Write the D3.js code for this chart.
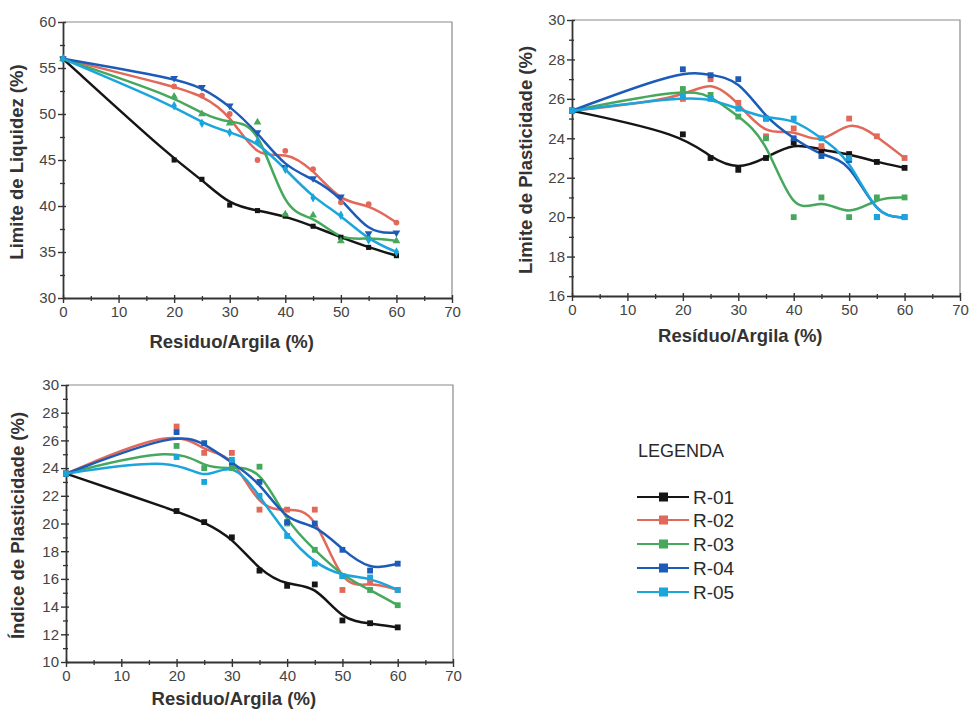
<!DOCTYPE html>
<html>
<head>
<meta charset="utf-8">
<script src="https://cdn.jsdelivr.net/npm/d3@7"></script>
<style>
  html, body { margin: 0; padding: 0; background: #fff; }
  svg { display: block; font-family: "Liberation Sans", Arial, sans-serif; }
</style>
</head>
<body>
<svg id="chart" width="969" height="712"></svg>
<script>
// Residue/clay ratio (%) tested for every mix
const residuo = [0, 20, 25, 30, 35, 40, 45, 50, 55, 60];

const seriesNames = ["R-01", "R-02", "R-03", "R-04", "R-05"];
const seriesColors = ["#151515", "#e2685a", "#45a85c", "#1c5cb8", "#1aa6dc"];

// Limite de Liquidez (%), one row per series
const limiteLiquidez = [
  [56.0, 45.0, 42.9, 40.1, 39.5, 38.9, 37.8, 36.6, 35.5, 34.6],
  [56.0, 53.0, 52.0, 50.0, 45.0, 46.0, 44.0, 40.4, 40.2, 38.2],
  [56.0, 51.9, 50.0, 49.0, 49.1, 39.1, 39.0, 36.2, 36.6, 36.2],
  [56.0, 53.9, 52.9, 50.9, 48.0, 44.2, 43.0, 41.0, 37.0, 37.1],
  [56.0, 50.9, 49.0, 48.0, 47.0, 44.0, 40.9, 39.0, 36.3, 35.0]
];

// Limite de Plasticidade (%)
const limitePlasticidade = [
  [25.4, 24.2, 23.0, 22.4, 23.0, 23.8, 23.4, 23.2, 22.8, 22.5],
  [25.4, 26.0, 27.0, 25.8, 24.1, 24.5, 23.6, 25.0, 24.1, 23.0],
  [25.4, 26.5, 26.2, 25.1, 24.0, 20.0, 21.0, 20.0, 21.0, 21.0],
  [25.4, 27.5, 27.2, 27.0, 25.0, 24.0, 23.1, 22.9, 20.0, 20.0],
  [25.4, 26.1, 26.0, 25.5, 25.0, 25.0, 24.0, 23.0, 20.0, 20.0]
];

// Índice de Plasticidade (%)
const indicePlasticidade = [
  [23.6, 20.9, 20.1, 19.0, 16.6, 15.5, 15.6, 13.0, 12.8, 12.5],
  [23.6, 27.0, 25.1, 25.1, 21.0, 21.0, 21.0, 15.2, 15.8, 15.2],
  [23.6, 25.6, 24.0, 24.0, 24.1, 20.0, 18.1, 16.2, 15.2, 14.1],
  [23.6, 26.6, 25.8, 24.4, 23.0, 20.1, 20.0, 18.1, 16.6, 17.1],
  [23.6, 24.8, 23.0, 24.6, 22.0, 19.1, 17.1, 16.2, 16.1, 15.2]
];

const xTicks = [0, 10, 20, 30, 40, 50, 60, 70];

const svg = d3.select("#chart");

const panels = [
  { data: limiteLiquidez, yDomain: [30, 60], yMajor: 5, yMinor: 2.5,
    box: { left: 63, right: 452, top: 22, bottom: 298 },
    yLabel: "Limite de Liquidez (%)", xLabel: "Residuo/Argila (%)",
    yLabelX: 18, xLabelY: 348,
    symbols: [d3.symbolSquare, d3.symbolCircle, d3.symbolTriangle, d3.symbolTriangle, d3.symbolDiamond],
    flip: [false, false, false, true, false], markerSize: 26 },
  { data: limitePlasticidade, yDomain: [16, 30], yMajor: 2, yMinor: 1,
    box: { left: 572, right: 960, top: 20, bottom: 296 },
    yLabel: "Limite de Plasticidade (%)", xLabel: "Resíduo/Argila (%)",
    yLabelX: 527, xLabelY: 342,
    symbols: null, markerSize: 34 },
  { data: indicePlasticidade, yDomain: [10, 30], yMajor: 2, yMinor: 1,
    box: { left: 66, right: 453, top: 385, bottom: 662 },
    yLabel: "Índice de Plasticidade (%)", xLabel: "Residuo/Argila (%)",
    yLabelX: 19, xLabelY: 705,
    symbols: null, markerSize: 34 }
];

function range(a, b, step) {
  const out = [];
  for (let v = a; v <= b + 1e-9; v += step) out.push(+v.toFixed(4));
  return out;
}

panels.forEach(p => {
  const b = p.box;
  const x = d3.scaleLinear().domain([0, 70]).range([b.left, b.right]);
  const y = d3.scaleLinear().domain(p.yDomain).range([b.bottom, b.top]);
  const g = svg.append("g");

  // frame: top and right edges
  g.append("path")
    .attr("d", `M${b.left},${b.top}H${b.right}V${b.bottom}`)
    .attr("fill", "none").attr("stroke", "#8a8a8a").attr("stroke-width", 1.2);

  // minor ticks
  const xMinor = range(0, 70, 5).filter(v => v % 10 !== 0);
  const yMinor = range(p.yDomain[0], p.yDomain[1], p.yMinor)
    .filter(v => Math.abs((v - p.yDomain[0]) / p.yMajor - Math.round((v - p.yDomain[0]) / p.yMajor)) > 1e-6);

  const xMinorAxis = g.append("g").attr("transform", `translate(0,${b.bottom})`)
    .call(d3.axisBottom(x).tickValues(xMinor).tickSize(3).tickFormat(""));
  xMinorAxis.selectAll(".tick line").attr("y1", -2).attr("stroke", "#333").attr("stroke-width", 1.3);
  xMinorAxis.select(".domain").remove();

  const yMinorAxis = g.append("g").attr("transform", `translate(${b.left},0)`)
    .call(d3.axisLeft(y).tickValues(yMinor).tickSize(3).tickFormat(""));
  yMinorAxis.selectAll(".tick line").attr("x1", 2).attr("stroke", "#333").attr("stroke-width", 1.3);
  yMinorAxis.select(".domain").remove();

  // major axes
  const xAxis = g.append("g").attr("transform", `translate(0,${b.bottom})`)
    .call(d3.axisBottom(x).tickValues(xTicks).tickSize(5).tickSizeOuter(0).tickPadding(3));
  xAxis.selectAll(".tick line").attr("y1", -3).attr("stroke", "#333").attr("stroke-width", 1.4);
  xAxis.select(".domain").attr("stroke", "#333").attr("stroke-width", 1.8);
  xAxis.selectAll(".tick text").attr("font-size", 15).attr("fill", "#444")
    .attr("font-family", "Liberation Sans, Arial, sans-serif");

  const yAxis = g.append("g").attr("transform", `translate(${b.left},0)`)
    .call(d3.axisLeft(y).tickValues(range(p.yDomain[0], p.yDomain[1], p.yMajor)).tickSize(5).tickSizeOuter(0).tickPadding(2));
  yAxis.selectAll(".tick line").attr("x1", 3).attr("stroke", "#333").attr("stroke-width", 1.4);
  yAxis.select(".domain").attr("stroke", "#333").attr("stroke-width", 1.8);
  yAxis.selectAll(".tick text").attr("font-size", 15).attr("fill", "#444")
    .attr("font-family", "Liberation Sans, Arial, sans-serif");

  // axis titles
  g.append("text")
    .attr("x", (b.left + x(60)) / 2 + 2).attr("y", p.xLabelY)
    .attr("text-anchor", "middle").attr("font-size", 18.5).attr("font-weight", "bold")
    .attr("fill", "#333").text(p.xLabel);
  g.append("text")
    .attr("transform", `translate(${p.yLabelX},${(b.top + b.bottom) / 2 + 2}) rotate(-90)`)
    .attr("text-anchor", "middle").attr("dominant-baseline", "middle")
    .attr("font-size", 18.5).attr("font-weight", "bold")
    .attr("fill", "#333").text(p.yLabel);

  // smoothed curves and measured points
  const line = d3.line().x((d, i) => x(residuo[i])).y(d => y(d)).curve(d3.curveBasis);
  p.data.forEach((vals, si) => {
    g.append("path").datum(vals)
      .attr("d", line)
      .attr("fill", "none").attr("stroke", seriesColors[si])
      .attr("stroke-width", 2.5).attr("stroke-linejoin", "round");
  });
  p.data.forEach((vals, si) => {
    const sym = p.symbols ? p.symbols[si] : d3.symbolSquare;
    const rot = p.symbols && p.flip[si] ? 180 : 0;
    g.selectAll(null).data(vals).join("path")
      .attr("transform", (d, i) => `translate(${x(residuo[i])},${y(d)}) rotate(${rot})`)
      .attr("d", d3.symbol().type(sym).size(p.markerSize))
      .attr("fill", seriesColors[si]);
  });
});

// legend
const legend = svg.append("g");
legend.append("text").attr("x", 638).attr("y", 457)
  .attr("font-size", 18).attr("fill", "#2a2a2a").text("LEGENDA");
const legendY = [497, 520, 544, 568, 592];
seriesNames.forEach((name, i) => {
  const row = legend.append("g").attr("transform", `translate(0,${legendY[i]})`);
  row.append("line").attr("x1", 637).attr("x2", 689).attr("y1", 0).attr("y2", 0)
    .attr("stroke", seriesColors[i]).attr("stroke-width", 2.2);
  row.append("rect").attr("x", 659).attr("y", -4.5).attr("width", 9).attr("height", 9)
    .attr("fill", seriesColors[i]);
  row.append("text").attr("x", 693).attr("y", 7)
    .attr("font-size", 19).attr("fill", "#2a2a2a").text(name);
});
</script>
</body>
</html>
